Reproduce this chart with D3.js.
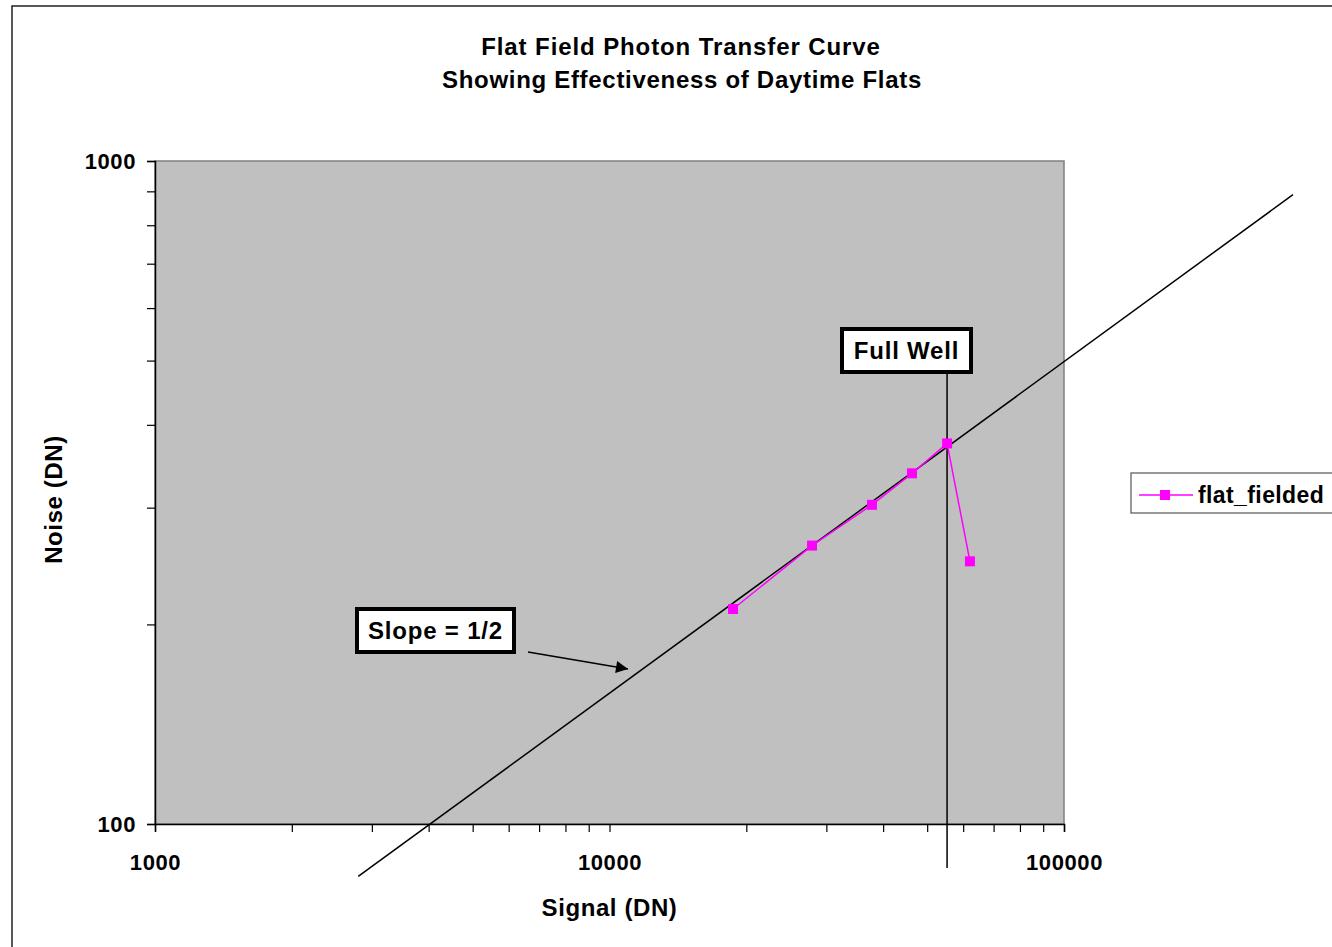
<!DOCTYPE html>
<html>
<head>
<meta charset="utf-8">
<script src="https://cdn.jsdelivr.net/npm/d3@7"></script>
<style>
  body { margin: 0; background: #fff; }
  text { font-family: "Liberation Sans", Arial, sans-serif; font-weight: bold; }
</style>
</head>
<body>
<div id="chart"></div>
<script>
// chart data
var signal = [18700, 27900, 37800, 46300, 55300, 62100];
var noise = [211, 263, 303, 338, 375, 249];
var seriesName = "flat_fielded";
var xTicks = [1000, 10000, 100000];
var yTicks = [100, 1000];
var slopeRefSignal = 4030;   // signal where the slope 1/2 line hits noise 100
var slopeRange = [2800, 319000];
var fullWell = 55300;

var svgWidth = 1332;
var svgHeight = 947;

var chartMargin = { top: 161, right: 268, bottom: 123, left: 155 };
var width = svgWidth - chartMargin.left - chartMargin.right;
var height = svgHeight - chartMargin.top - chartMargin.bottom;

var svg = d3.select("#chart")
  .append("svg")
  .attr("width", svgWidth)
  .attr("height", svgHeight);

// outer frame
svg.append("rect")
  .attr("x", 12).attr("y", 6)
  .attr("width", svgWidth).attr("height", svgHeight)
  .attr("fill", "none")
  .attr("stroke", "#222")
  .attr("stroke-width", 1.5);

// title
svg.append("text").attr("x", 681).attr("y", 55)
  .attr("text-anchor", "middle").attr("font-size", 24)
  .attr("letter-spacing", 0.9)
  .text("Flat Field Photon Transfer Curve");
svg.append("text").attr("x", 682).attr("y", 88)
  .attr("text-anchor", "middle").attr("font-size", 24)
  .attr("letter-spacing", 0.7)
  .text("Showing Effectiveness of Daytime Flats");

var chartGroup = svg.append("g")
  .attr("transform", `translate(${chartMargin.left}, ${chartMargin.top})`);

var x = d3.scaleLog().domain([1000, 100000]).range([0, width]);
var y = d3.scaleLog().domain([100, 1000]).range([height, 0]);

chartGroup.append("rect")
  .attr("width", width).attr("height", height)
  .attr("fill", "#c0c0c0")
  .attr("stroke", "#808080")
  .attr("stroke-width", 1.5);

// axes
var xAxis = d3.axisBottom(x).tickSizeOuter(0).tickSize(8)
  .tickFormat(function (d) { return xTicks.indexOf(d) >= 0 ? d : ""; });
var yAxis = d3.axisLeft(y).tickSizeOuter(0).tickSize(8)
  .tickFormat(function (d) { return yTicks.indexOf(d) >= 0 ? d : ""; });

var gx = chartGroup.append("g")
  .attr("transform", `translate(0, ${height})`)
  .call(xAxis);
var gy = chartGroup.append("g").call(yAxis);

[gx, gy].forEach(function (g) {
  g.attr("font-size", null).attr("font-family", null);
  g.select(".domain").attr("stroke", "#000").attr("stroke-width", 1.5);
  g.selectAll(".tick line").attr("stroke", "#000").attr("stroke-width", 1.2);
  g.selectAll(".tick text")
    .attr("fill", "#000")
    .style("font-size", "22px")
    .style("letter-spacing", "0.6px")
    .style("font-family", "Liberation Sans, Arial, sans-serif")
    .style("font-weight", "bold");
});
gx.selectAll(".tick text").attr("y", 46).attr("dy", 0);
gy.selectAll(".tick text").attr("x", -19).attr("dy", "0.35em");

// axis titles
chartGroup.append("text")
  .attr("x", x(10000)).attr("y", height + 92)
  .attr("text-anchor", "middle").attr("font-size", 24)
  .attr("letter-spacing", 0.6)
  .text("Signal (DN)");
chartGroup.append("text")
  .attr("transform", `translate(-93, ${height / 2 + 7}) rotate(-90)`)
  .attr("text-anchor", "middle").attr("font-size", 24)
  .attr("letter-spacing", 0.6)
  .text("Noise (DN)");

// slope = 1/2 reference line (extends past the plot)
var slopeLine = slopeRange.map(function (s) {
  return [s, 100 * Math.sqrt(s / slopeRefSignal)];
});
chartGroup.append("line")
  .attr("x1", x(slopeLine[0][0])).attr("y1", y(slopeLine[0][1]))
  .attr("x2", x(slopeLine[1][0])).attr("y2", y(slopeLine[1][1]))
  .attr("stroke", "#000").attr("stroke-width", 1.5);

// full well line
chartGroup.append("line")
  .attr("x1", x(fullWell)).attr("x2", x(fullWell))
  .attr("y1", 212).attr("y2", height + 44)
  .attr("stroke", "#000").attr("stroke-width", 1.5);

// data series
var pts = signal.map(function (s, i) { return [s, noise[i]]; });
var line = d3.line()
  .x(function (d) { return x(d[0]); })
  .y(function (d) { return y(d[1]); });
chartGroup.append("path")
  .datum(pts)
  .attr("d", line)
  .attr("fill", "none")
  .attr("stroke", "#ff00ff")
  .attr("stroke-width", 1.5);
chartGroup.selectAll(".pt")
  .data(pts)
  .enter().append("rect")
  .attr("x", function (d) { return x(d[0]) - 5; })
  .attr("y", function (d) { return y(d[1]) - 5; })
  .attr("width", 10).attr("height", 10)
  .attr("fill", "#ff00ff");

// label boxes
function labelBox(bx, by, bw, bh, label) {
  chartGroup.append("rect")
    .attr("x", bx).attr("y", by).attr("width", bw).attr("height", bh)
    .attr("fill", "#fff").attr("stroke", "#000").attr("stroke-width", 4);
  chartGroup.append("text")
    .attr("x", bx + bw / 2).attr("y", by + bh / 2 + 8)
    .attr("text-anchor", "middle").attr("font-size", 24)
    .attr("letter-spacing", 0.8)
    .text(label);
}
labelBox(842 - 155, 329 - 161, 129, 43, "Full Well");
labelBox(357 - 155, 609 - 161, 157, 43, "Slope = 1/2");

// arrow
var defs = svg.append("defs");
defs.append("marker")
  .attr("id", "arrow")
  .attr("viewBox", "0 0 10 10")
  .attr("refX", 10).attr("refY", 5)
  .attr("markerWidth", 20).attr("markerHeight", 12)
  .attr("markerUnits", "userSpaceOnUse")
  .attr("orient", "auto")
  .append("path").attr("d", "M0,0 L10,5 L0,10 z").attr("fill", "#000");
chartGroup.append("line")
  .attr("x1", 528 - 155).attr("y1", 652 - 161)
  .attr("x2", 628 - 155).attr("y2", 669 - 161)
  .attr("stroke", "#000").attr("stroke-width", 1.5)
  .attr("marker-end", "url(#arrow)");

// legend
var legend = svg.append("g").attr("transform", "translate(1131, 473)");
legend.append("rect")
  .attr("width", 240).attr("height", 40)
  .attr("fill", "#fff").attr("stroke", "#555").attr("stroke-width", 1.2);
legend.append("line")
  .attr("x1", 8).attr("x2", 62).attr("y1", 22).attr("y2", 22)
  .attr("stroke", "#ff00ff").attr("stroke-width", 1.5);
legend.append("rect")
  .attr("x", 29).attr("y", 17).attr("width", 10).attr("height", 10)
  .attr("fill", "#ff00ff");
legend.append("text")
  .attr("x", 67).attr("y", 30).attr("font-size", 23)
  .attr("letter-spacing", 0.4)
  .text(seriesName);
</script>
</body>
</html>
